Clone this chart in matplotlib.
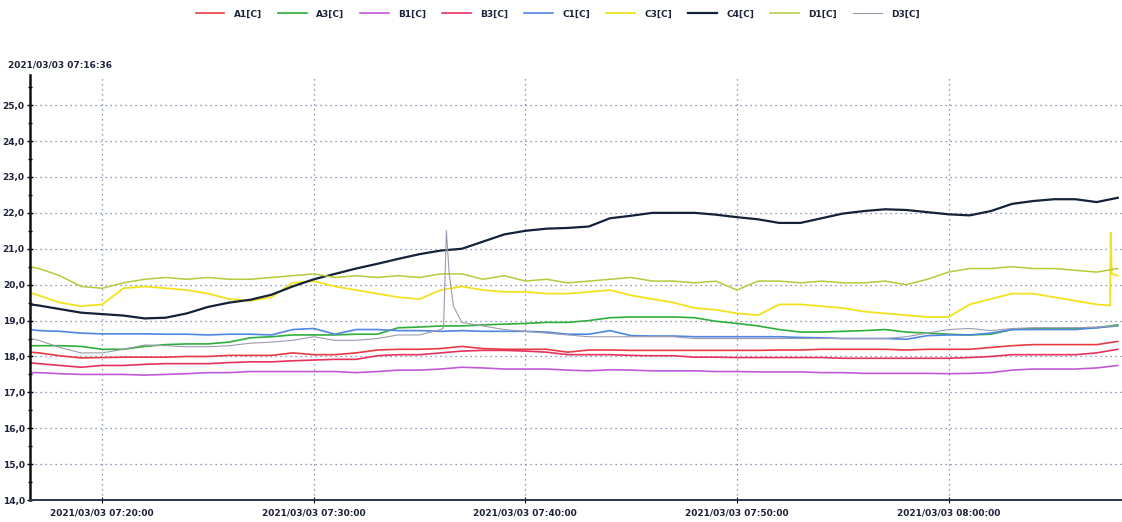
import datetime as dt

from matplotlib import pyplot as plt
from matplotlib import dates as mdates
from matplotlib.ticker import MultipleLocator, FuncFormatter

plt.rcParams['font.family'] = ['DejaVu Sans']

# sample times: 07:16:36, then every minute 07:17 .. 08:08
T0 = dt.datetime(2021, 3, 3, 7, 16, 36)
MINUTES = list(range(17, 60)) + [60 + m for m in range(0, 9)]
TIMES = [T0] + [dt.datetime(2021, 3, 3, 7, 0) + dt.timedelta(minutes=m) for m in MINUTES]

A1 = [18.12, 18.1, 18.02, 17.96, 17.97, 17.98, 17.98, 17.98, 18.0, 18.0, 18.03, 18.03, 18.03, 18.1,
      18.05, 18.05, 18.1, 18.18, 18.2, 18.2, 18.22, 18.28, 18.22, 18.2, 18.2, 18.2, 18.12, 18.18,
      18.18, 18.17, 18.17, 18.17, 18.17, 18.17, 18.17, 18.17, 18.18, 18.18, 18.2, 18.2, 18.2, 18.2,
      18.18, 18.2, 18.2, 18.2, 18.25, 18.3, 18.33, 18.33, 18.33, 18.33, 18.42]
A3 = [18.3, 18.3, 18.3, 18.28, 18.2, 18.2, 18.28, 18.33, 18.35, 18.35, 18.4, 18.52, 18.55, 18.6,
      18.6, 18.6, 18.62, 18.62, 18.8, 18.82, 18.85, 18.85, 18.88, 18.9, 18.92, 18.95, 18.95, 19.0,
      19.08, 19.1, 19.1, 19.1, 19.08, 18.98, 18.92, 18.85, 18.75, 18.68, 18.68, 18.7, 18.72, 18.75,
      18.68, 18.65, 18.62, 18.6, 18.62, 18.75, 18.78, 18.78, 18.78, 18.8, 18.88]
B1 = [17.55, 17.55, 17.52, 17.5, 17.5, 17.5, 17.48, 17.5, 17.52, 17.55, 17.55, 17.58, 17.58, 17.58,
      17.58, 17.58, 17.55, 17.58, 17.62, 17.62, 17.65, 17.7, 17.68, 17.65, 17.65, 17.65, 17.62, 17.6,
      17.63, 17.62, 17.6, 17.6, 17.6, 17.58, 17.58, 17.57, 17.57, 17.57, 17.55, 17.55, 17.53, 17.53,
      17.53, 17.53, 17.52, 17.53, 17.55, 17.62, 17.65, 17.65, 17.65, 17.68, 17.75]
B3 = [17.82, 17.8, 17.75, 17.7, 17.75, 17.75, 17.78, 17.8, 17.8, 17.8, 17.83, 17.85, 17.85, 17.88,
      17.9, 17.92, 17.92, 18.02, 18.05, 18.05, 18.1, 18.15, 18.17, 18.17, 18.15, 18.12, 18.05, 18.05,
      18.05, 18.03, 18.02, 18.02, 17.98, 17.98, 17.97, 17.97, 17.97, 17.97, 17.97, 17.95, 17.95, 17.95,
      17.95, 17.95, 17.95, 17.97, 18.0, 18.05, 18.05, 18.05, 18.05, 18.1, 18.2]
C1 = [18.75, 18.72, 18.7, 18.65, 18.63, 18.63, 18.63, 18.62, 18.62, 18.6, 18.62, 18.62, 18.6, 18.75,
      18.78, 18.62, 18.75, 18.75, 18.72, 18.72, 18.7, 18.72, 18.7, 18.7, 18.7, 18.68, 18.62, 18.62,
      18.72, 18.58, 18.57, 18.57, 18.55, 18.55, 18.55, 18.55, 18.55, 18.53, 18.52, 18.5, 18.5, 18.5,
      18.48, 18.58, 18.6, 18.6, 18.65, 18.75, 18.75, 18.75, 18.75, 18.8, 18.85]
C3 = [19.78, 19.7, 19.5, 19.4, 19.45, 19.9, 19.95, 19.9, 19.85, 19.75, 19.6, 19.55, 19.65, 20.05,
      20.1, 19.95, 19.85, 19.75, 19.65, 19.6, 19.85, 19.95, 19.85, 19.8, 19.8, 19.75, 19.75, 19.8,
      19.85, 19.7, 19.6, 19.5, 19.35, 19.3, 19.2, 19.15, 19.45, 19.45, 19.4, 19.35, 19.25, 19.2,
      19.15, 19.1, 19.1, 19.45, 19.6, 19.75, 19.75, 19.65, 19.55, 19.45, 20.25]
C4 = [19.45, 19.42, 19.32, 19.22, 19.18, 19.14, 19.06, 19.08, 19.2, 19.38, 19.5, 19.58, 19.72, 19.95,
      20.15, 20.3, 20.45, 20.58, 20.72, 20.85, 20.95, 21.0, 21.2, 21.4, 21.5, 21.56, 21.58, 21.62,
      21.85, 21.92, 22.0, 22.0, 22.0, 21.95, 21.88, 21.82, 21.72, 21.72, 21.85, 21.98, 22.05, 22.1,
      22.08, 22.02, 21.96, 21.93, 22.05, 22.25, 22.33, 22.38, 22.38, 22.3, 22.42]
D1 = [20.5, 20.45, 20.25, 19.95, 19.9, 20.05, 20.15, 20.2, 20.15, 20.2, 20.15, 20.15, 20.2, 20.25,
      20.3, 20.2, 20.25, 20.2, 20.25, 20.2, 20.3, 20.3, 20.15, 20.25, 20.1, 20.15, 20.05, 20.1,
      20.15, 20.2, 20.1, 20.1, 20.05, 20.1, 19.85, 20.1, 20.1, 20.05, 20.1, 20.05, 20.05, 20.1,
      20.0, 20.15, 20.35, 20.45, 20.45, 20.5, 20.45, 20.45, 20.4, 20.35, 20.45]
D3 = [18.5, 18.45, 18.25, 18.1, 18.1, 18.2, 18.32, 18.3, 18.27, 18.27, 18.3, 18.37, 18.4, 18.45,
      18.55, 18.45, 18.45, 18.5, 18.6, 18.6, 18.75, 18.95, 18.85, 18.75, 18.7, 18.65, 18.6, 18.55,
      18.55, 18.55, 18.55, 18.55, 18.5, 18.5, 18.5, 18.5, 18.5, 18.5, 18.5, 18.5, 18.5, 18.5,
      18.55, 18.65, 18.75, 18.78, 18.72, 18.78, 18.8, 18.8, 18.8, 18.82, 18.85]

# short spikes between the minute samples
C3_SPIKE_T = [dt.datetime(2021, 3, 3, 8, 7, 38), dt.datetime(2021, 3, 3, 8, 7, 40),
              dt.datetime(2021, 3, 3, 8, 7, 43)]
C3_SPIKE_V = [19.42, 21.45, 20.3]
D3_SPIKE_T = [dt.datetime(2021, 3, 3, 7, 36, 8), dt.datetime(2021, 3, 3, 7, 36, 16),
              dt.datetime(2021, 3, 3, 7, 36, 24), dt.datetime(2021, 3, 3, 7, 36, 36)]
D3_SPIKE_V = [18.8, 21.5, 20.3, 19.4]

NAMES = ['A1[C]', 'A3[C]', 'B1[C]', 'B3[C]', 'C1[C]', 'C3[C]', 'C4[C]', 'D1[C]', 'D3[C]']
SERIES = [A1, A3, B1, B3, C1, C3, C4, D1, D3]
COLORS = ['#e63a44', '#2fae3a', '#c25ad6', '#e8325e', '#4f86e0', '#f2e21e', '#132238', '#b6ca3c', '#9c9cae']
WIDTHS = [1.2, 1.2, 1.2, 1.2, 1.2, 1.3, 1.6, 1.1, 0.8]
EXTRA = {'C3[C]': (C3_SPIKE_T, C3_SPIKE_V), 'D3[C]': (D3_SPIKE_T, D3_SPIKE_V)}

fig = plt.figure(figsize=(11.22, 5.22), dpi=100)
ax = fig.add_axes([0.027, 0.042, 0.973, 0.815])

for name, vals, col, lw in zip(NAMES, SERIES, COLORS, WIDTHS):
    pts = list(zip(TIMES, vals))
    if name in EXTRA:
        pts += list(zip(*EXTRA[name]))
    pts.sort()
    ax.plot([p[0] for p in pts], [p[1] for p in pts], color=col, lw=lw, label=name)

ax.set_ylim(14, 25.85)
ax.set_xlim(T0, dt.datetime(2021, 3, 3, 8, 8, 12))

ax.yaxis.set_major_locator(MultipleLocator(1))
ax.yaxis.set_minor_locator(MultipleLocator(0.5))
ax.yaxis.set_major_formatter(FuncFormatter(lambda v, p: ('%.1f' % v).replace('.', ',') if v <= 25 else ''))
ax.xaxis.set_major_locator(mdates.MinuteLocator(byminute=[0, 10, 20, 30, 40, 50]))
ax.xaxis.set_major_formatter(mdates.DateFormatter('%Y/%m/%d %H:%M:%S'))

ax.grid(True, which='major', color='#6a7ba3', linestyle=(0, (1, 3)), lw=0.9)
ax.tick_params(axis='y', which='both', direction='inout', length=4, width=1, labelsize=6.5,
               pad=2, labelcolor='#1c2238')
ax.tick_params(axis='y', which='minor', length=3)
ax.tick_params(axis='x', direction='inout', length=4, labelsize=6.5, pad=4, labelcolor='#1c2238')
for lab in ax.get_xticklabels() + ax.get_yticklabels():
    lab.set_fontweight('bold')

for side in ['top', 'right']:
    ax.spines[side].set_visible(False)
ax.spines['left'].set_linewidth(1.8)
ax.spines['left'].set_color('#111111')
ax.spines['bottom'].set_linewidth(1.4)
ax.spines['bottom'].set_color('#2a3550')

fig.text(0.007, 1 - 65 / 522, '2021/03/03 07:16:36', fontsize=6.5, fontweight='bold',
         color='#1c2238', va='center')

leg = fig.legend(loc='center', bbox_to_anchor=(0.497, 1 - 14 / 522), ncol=9, frameon=False,
                 fontsize=6.5, handlelength=3.2, handletextpad=1.0, columnspacing=1.8)
for t in leg.get_texts():
    t.set_color('#1c2238')
    t.set_fontweight('bold')

fig.savefig('out.png', dpi=100)
